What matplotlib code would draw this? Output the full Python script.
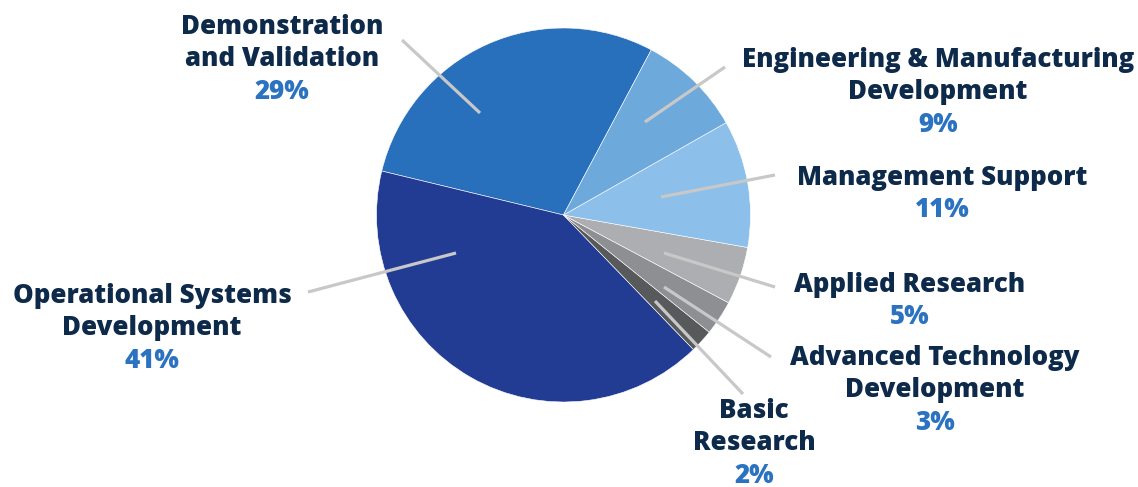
import matplotlib.pyplot as plt

# budget share by activity, counterclockwise from the top-right edge
categories = [
    "Demonstration\nand Validation",
    "Operational Systems\nDevelopment",
    "Basic\nResearch",
    "Advanced Technology\nDevelopment",
    "Applied Research",
    "Management Support",
    "Engineering & Manufacturing\nDevelopment",
]
shares = [29, 41, 2, 3, 5, 11, 9]
slice_colors = ["#2870BB", "#233C93", "#58595B", "#8D8F92", "#ADAEB1", "#8CBFEA", "#6EA9DC"]

NAVY = "#0E2A4B"
BLUE = "#2B72C0"
LEADER = "#C8C8C8"
W, H = 1138, 487

# label layout in pixel coords (x centre, y of first line), leader start/end
label_pos = [(282, 27), (152, 296), (754, 411), (935, 358), (910, 285), (942, 178), (938, 60)]
leaders = [
    ((402, 40), (480, 113)),
    ((308, 292), (456, 253)),
    ((743, 394), (655, 301)),
    ((771, 357), (664, 287)),
    ((775, 287), (664, 253)),
    ((775, 175), (661, 197)),
    ((725, 67), (645, 122)),
]
LINE_GAP = 32.3

plt.rcParams["font.family"] = ["Open Sans", "DejaVu Sans"]

fig = plt.figure(figsize=(W / 100, H / 100), dpi=100)
ax = fig.add_axes([0, 0, 1, 1])

ax.pie(
    shares,
    colors=slice_colors,
    startangle=62,
    counterclock=True,
    center=(563.5, H - 215),
    radius=187,
    wedgeprops=dict(edgecolor="white", linewidth=0.4),
    frame=True,
)
ax.set_xlim(0, W)
ax.set_ylim(0, H)
ax.set_aspect("equal")
ax.axis("off")

for (p0, p1) in leaders:
    ax.plot([p0[0], p1[0]], [H - p0[1], H - p1[1]], color=LEADER, lw=2.3,
            solid_capstyle="butt", zorder=3)

for name, pct, (x, y) in zip(categories, shares, label_pos):
    lines = name.split("\n")
    for i, line in enumerate(lines):
        ax.text(x, H - (y + i * LINE_GAP), line, ha="center", va="center",
                color=NAVY, fontsize=18.6, fontweight="heavy")
    ax.text(x, H - (y + len(lines) * LINE_GAP), f"{pct}%", ha="center", va="center",
            color=BLUE, fontsize=18.6, fontweight="heavy")

fig.savefig("out.png", dpi=100)
